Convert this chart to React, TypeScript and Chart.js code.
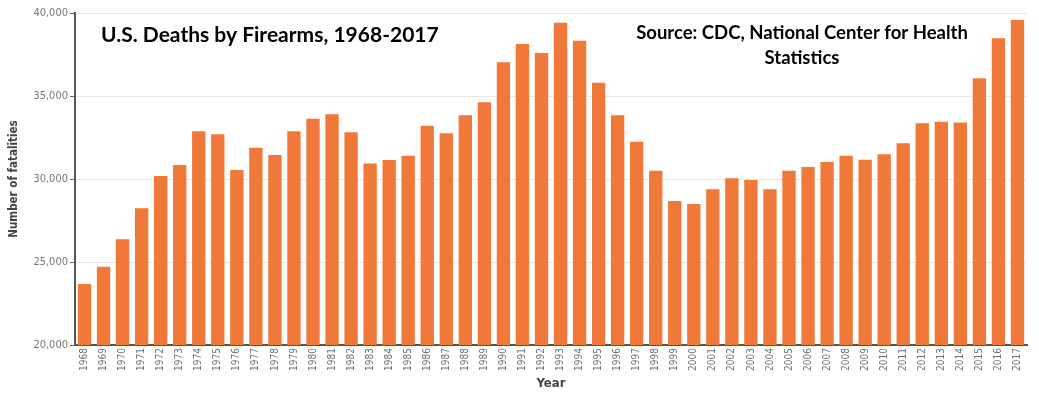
import React, { useEffect, useRef } from "react";
import { Chart, registerables } from "chart.js";

Chart.register(...registerables);

const years: string[] = [
  "1968","1969","1970","1971","1972","1973","1974","1975","1976","1977",
  "1978","1979","1980","1981","1982","1983","1984","1985","1986","1987",
  "1988","1989","1990","1991","1992","1993","1994","1995","1996","1997",
  "1998","1999","2000","2001","2002","2003","2004","2005","2006","2007",
  "2008","2009","2010","2011","2012","2013","2014","2015","2016","2017",
];

const deaths: number[] = [
  23680, 24720, 26370, 28240, 30180, 30840, 32870, 32690, 30540, 31890,
  31450, 32870, 33630, 33900, 32810, 30940, 31140, 31400, 33210, 32750,
  33840, 34620, 37030, 38130, 37590, 39420, 38330, 35800, 33840, 32250,
  30500, 28680, 28490, 29380, 30040, 29940, 29380, 30500, 30720, 31020,
  31400, 31160, 31490, 32150, 33360, 33450, 33400, 36070, 38480, 39580,
];

const yTicks: number[] = [20000, 25000, 30000, 35000, 40000];

const titleText = "U.S. Deaths by Firearms, 1968-2017";
const sourceLines: string[] = ["Source: CDC, National Center for Health", "Statistics"];

const overlayPlugin = {
  id: "overlayText",
  afterDraw(chart: any) {
    const ctx = chart.ctx;
    ctx.save();
    ctx.fillStyle = "#000";
    ctx.textBaseline = "alphabetic";
    ctx.font = "bold 21px Lato";
    ctx.textAlign = "left";
    ctx.fillText(titleText, 101, 42);
    ctx.font = "bold 18.5px Lato";
    ctx.textAlign = "center";
    ctx.fillText(sourceLines[0], 802, 39);
    ctx.fillText(sourceLines[1], 802, 64);
    ctx.restore();
  },
};

export default function App() {
  const ref = useRef<HTMLCanvasElement | null>(null);
  useEffect(() => {
    if (!ref.current) return;
    const chart = new Chart(ref.current, {
      type: "bar",
      data: {
        labels: years,
        datasets: [
          {
            label: "Deaths",
            data: deaths,
            backgroundColor: "#F07838",
            borderWidth: 0,
            barPercentage: 0.7,
            categoryPercentage: 1.0,
          },
        ],
      },
      options: {
        responsive: false,
        animation: false,
        layout: { padding: { top: 13, right: 12, left: 0, bottom: 0 } },
        plugins: {
          legend: { display: false },
          tooltip: { enabled: false },
        },
        scales: {
          x: {
            afterFit: (s: any) => { s.height = 50; },
            grid: { display: false, drawTicks: false },
            border: { display: true, color: "#555", width: 2 },
            ticks: {
              autoSkip: false,
              minRotation: 90,
              maxRotation: 90,
              padding: 3,
              color: "#707070",
              font: { family: "DejaVu Sans Condensed", size: 10 },
            },
            title: {
              display: true,
              text: "Year",
              color: "#444",
              font: { family: "DejaVu Sans Condensed", size: 13, weight: "bold" },
              padding: { top: 0, bottom: 4 },
            },
          },
          y: {
            min: 20000,
            max: 40000,
            afterFit: (s: any) => { s.width = 75; },
            afterBuildTicks: (s: any) => { s.ticks = yTicks.map((v) => ({ value: v })); },
            grid: { color: "#e6e6e6", lineWidth: 1, tickColor: "#666", tickLength: 5 },
            border: { display: true, color: "#555", width: 2 },
            ticks: {
              padding: 2,
              color: "#777",
              font: { family: "DejaVu Sans Condensed", size: 11 },
              callback: (v: any) => Number(v).toLocaleString("en-US"),
            },
            title: {
              display: true,
              text: "Number of fatalities",
              color: "#444",
              font: { family: "DejaVu Sans Condensed", size: 11.5, weight: "bold" },
              padding: { top: 7, bottom: 0 },
            },
          },
        },
      },
      plugins: [overlayPlugin],
    });
    return () => chart.destroy();
  }, []);
  return (
    <div style={{ position: "absolute", left: 0, top: 0, width: 1039, height: 395, background: "#fff" }}>
      <canvas ref={ref} width={1039} height={395} />
    </div>
  );
}
